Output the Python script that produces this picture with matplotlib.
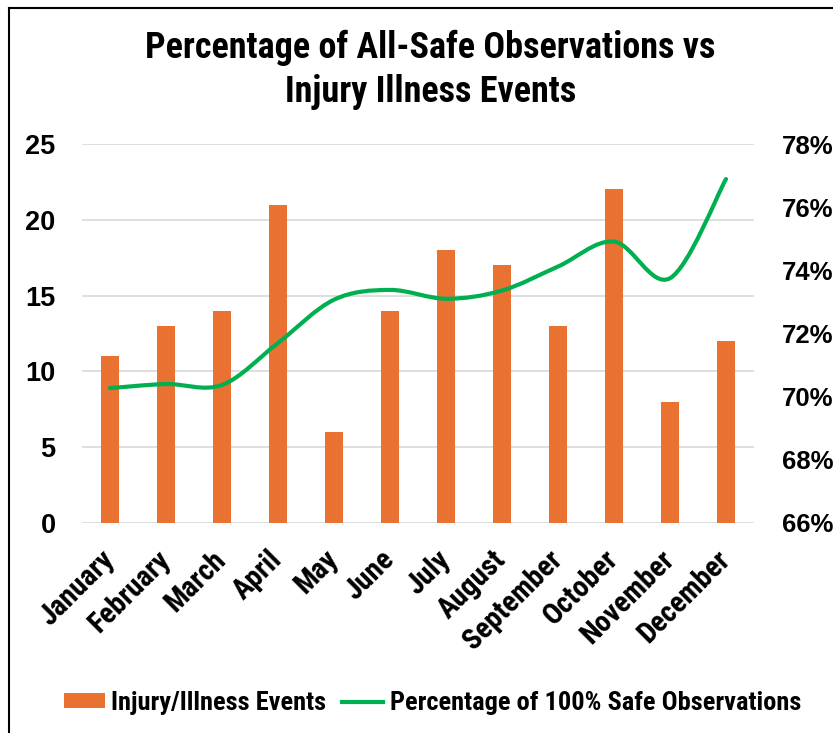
import numpy as np
import matplotlib
matplotlib.use("Agg")
import matplotlib.pyplot as plt
import matplotlib.transforms as mtransforms
from matplotlib.path import Path
from matplotlib.patches import PathPatch, Patch
from matplotlib.lines import Line2D

# =============================================================================
# DATA
# =============================================================================

months = ['January', 'February', 'March', 'April', 'May', 'June', 'July',
          'August', 'September', 'October', 'November', 'December']
events = [11, 13, 14, 21, 6, 14, 18, 17, 13, 22, 8, 12]
safe_pct = [70.27, 70.40, 70.37, 71.70, 73.07, 73.38, 73.10,
            73.36, 74.12, 74.91, 73.75, 76.89]

left_ticks = [0, 5, 10, 15, 20, 25]
right_ticks = [66, 68, 70, 72, 74, 76, 78]

ORANGE = '#E97132'
GREEN = '#00B050'
NARROW = ['Roboto Condensed', 'DejaVu Sans']
WIDE = ['Liberation Sans', 'DejaVu Sans']


def smooth_path(xs, ys):
    """Excel-style smoothed line as cubic Bezier segments."""
    pts = np.column_stack([xs, ys]).astype(float)
    n = len(pts)
    verts = [pts[0]]
    codes = [Path.MOVETO]
    for i in range(n - 1):
        p_prev = pts[i - 1] if i > 0 else pts[i]
        p_next2 = pts[i + 2] if i + 2 < n else pts[i + 1]
        c1 = pts[i] + (pts[i + 1] - p_prev) / 6
        c2 = pts[i + 1] - (p_next2 - pts[i]) / 6
        verts += [c1, c2, pts[i + 1]]
        codes += [Path.CURVE4] * 3
    return Path(verts, codes)


fig = plt.figure(figsize=(8.33, 7.33), dpi=100)
ax = fig.add_axes([82 / 833, 1 - 523 / 733, (754 - 82) / 833, (523 - 144) / 733])
ax2 = ax.twinx()

x = np.arange(len(months))
ax.bar(x, events, width=0.31, color=ORANGE, zorder=2)
ax.set_xlim(-0.5, len(months) - 0.5)
ax.set_ylim(0, 25)
ax.set_yticks(left_ticks)
ax.yaxis.grid(True, color='#D9D9D9', linewidth=1.2, zorder=0)
ax.set_axisbelow(True)

ax2.add_patch(PathPatch(smooth_path(x, safe_pct), facecolor='none',
                        edgecolor=GREEN, linewidth=3, capstyle='round', zorder=3))
ax2.set_ylim(66, 78)
ax2.set_yticks(right_ticks)
ax2.set_yticklabels([f'{t}%' for t in right_ticks])

for a in (ax, ax2):
    for s in a.spines.values():
        s.set_visible(False)
    a.tick_params(length=0)

ax.set_xticks(x)
ax.set_xticklabels(months, rotation=45, ha='right', rotation_mode='anchor',
                   fontsize=21, fontweight='bold', family=NARROW)
ax.tick_params(axis='x', pad=16)
# nudge month labels a little left so they end at their tick
shift = mtransforms.ScaledTranslation(-10 / 100, 0, fig.dpi_scale_trans)
for lbl in ax.get_xticklabels():
    lbl.set_transform(lbl.get_transform() + shift)
for lbl in ax.get_yticklabels():
    lbl.set_fontsize(19.5)
    lbl.set_fontweight('bold')
    lbl.set_family(WIDE)
ax.tick_params(axis='y', pad=19)
for lbl in ax2.get_yticklabels():
    lbl.set_fontsize(18.5)
    lbl.set_fontweight('bold')
    lbl.set_family(WIDE)
ax2.tick_params(axis='y', pad=20)

fig.text(0.517, 1 - 48 / 733, 'Percentage of All-Safe Observations vs',
         ha='center', va='center', fontsize=26, fontweight='bold', family=NARROW)
fig.text(0.517, 1 - 92 / 733, 'Injury Illness Events',
         ha='center', va='center', fontsize=26, fontweight='bold', family=NARROW)

handles = [Patch(facecolor=ORANGE, edgecolor='none'),
           Line2D([0], [0], color=GREEN, linewidth=3)]
fig.legend(handles, ['Injury/Illness Events', 'Percentage of 100% Safe Observations'],
           loc='center', bbox_to_anchor=(0.519, 1 - 703 / 733), ncol=2, frameon=False,
           prop={'family': NARROW, 'weight': 'bold', 'size': 19},
           handlelength=1.55, handleheight=0.5, handletextpad=0.25, columnspacing=0.6)

# border lines of the chart frame
fig.add_artist(Line2D([9 / 833, 9 / 833], [0, 1 - 8 / 733], color='black', linewidth=1.5,
                      transform=fig.transFigure))
fig.add_artist(Line2D([9 / 833, 1], [1 - 8 / 733, 1 - 8 / 733], color='black', linewidth=1.5,
                      transform=fig.transFigure))

fig.savefig('out.png', dpi=100)
